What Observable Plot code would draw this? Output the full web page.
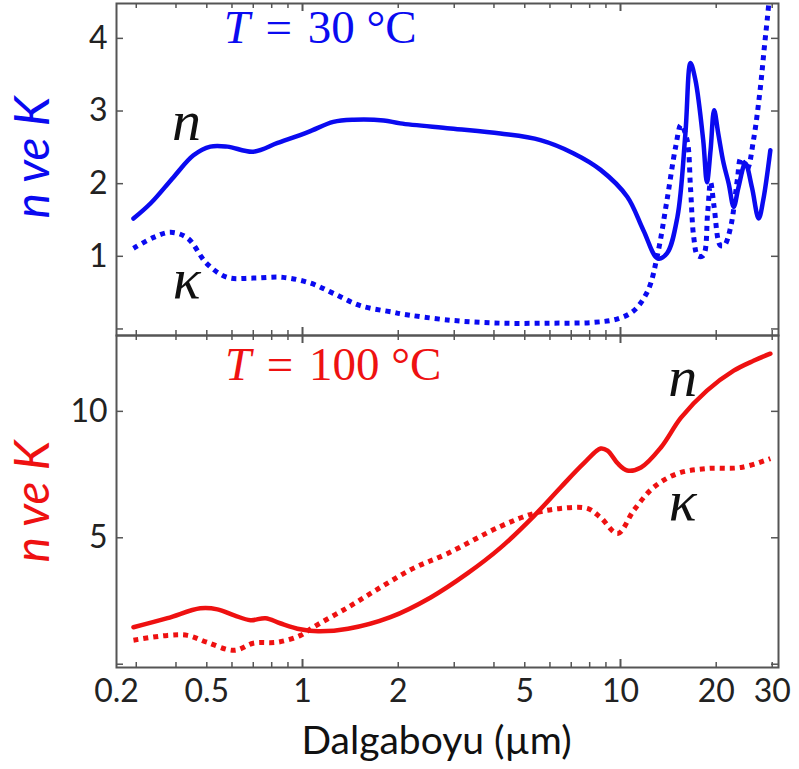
<!DOCTYPE html>
<html>
<head>
<meta charset="utf-8">
<script src="https://cdn.jsdelivr.net/npm/d3@7"></script>
<script src="https://cdn.jsdelivr.net/npm/@observablehq/plot@0.6"></script>
<style>
  html, body { margin: 0; padding: 0; background: #fff; }
  #chart { position: relative; width: 799px; height: 769px; overflow: hidden; }
  #chart svg { position: absolute; left: 0; }
</style>
</head>
<body>
<div id="chart"></div>
<script>
// ---- Data (wavelength in µm) ----
// Top panel, T = 30 °C
const n30_x = [0.294,0.333,0.393,0.454,0.513,0.58,0.70,0.835,1.04,1.25,1.45,1.80,2.03,2.92,4.19,5.6,7.1,8.66,10.5,11.8,13.1,14.0,15.1,16.0,16.6,17.2,18.2,18.7,19.2,19.7,20.3,21.1,21.9,22.7,23.5,24.7,25.9,27.2,28.1,29.6];
const n30_y = [1.52,1.73,2.09,2.39,2.51,2.51,2.44,2.56,2.71,2.85,2.88,2.87,2.83,2.76,2.69,2.60,2.42,2.19,1.82,1.36,0.97,1.04,1.54,2.69,3.66,3.43,2.60,2.02,2.46,3.01,2.69,2.28,2.00,1.68,1.95,2.28,1.95,1.52,1.77,2.46];
const k30_x = [0.294,0.34,0.385,0.435,0.50,0.58,0.70,0.87,1.06,1.25,1.52,1.93,2.03,2.92,4.19,6.0,8.2,9.8,11.0,12.2,13.1,14.0,14.9,15.5,16.2,16.6,17.0,17.5,18.2,18.8,19.2,19.7,20.6,21.2,22.2,23.3,23.9,25.0,26.2,27.5,28.3,29.0,29.6];
const k30_y = [1.11,1.26,1.33,1.25,0.90,0.71,0.70,0.71,0.63,0.49,0.32,0.23,0.21,0.12,0.08,0.08,0.09,0.14,0.25,0.53,1.04,1.77,2.50,2.81,2.60,1.95,1.26,1.01,1.01,1.60,2.02,1.68,1.15,1.15,1.40,2.05,2.35,2.20,2.60,3.30,3.85,4.30,4.70];
// Bottom panel, T = 100 °C
const n100_x = [0.294,0.376,0.477,0.54,0.61,0.686,0.765,0.85,0.985,1.12,1.39,1.89,2.53,3.30,4.19,5.33,6.48,7.66,8.66,9.1,9.8,10.5,11.6,13.4,15.5,18.7,22.7,26.2,29.6];
const n100_y = [1.46,1.82,2.21,2.17,1.93,1.74,1.82,1.62,1.38,1.30,1.40,1.86,2.64,3.59,4.60,5.85,6.99,7.94,8.53,8.45,7.94,7.66,7.78,8.57,9.75,10.82,11.61,12.00,12.28];
const k100_x = [0.294,0.376,0.435,0.50,0.61,0.70,0.835,0.985,1.08,1.39,1.76,2.23,2.86,4.19,5.33,6.48,7.87,8.66,9.8,11.0,12.7,15.1,18.7,23.9,29.6];
const k100_y = [0.95,1.14,1.14,0.87,0.55,0.83,0.87,1.14,1.46,2.25,3.04,3.79,4.38,5.45,5.96,6.16,6.16,5.80,5.17,6.08,6.99,7.54,7.74,7.78,8.13];

// Axis ticks
const xDomain = [0.26, 31.4];
const xTickValues = [0.26, 0.5, 1, 2, 5, 10, 20, 30];
const xTickLabels = ["0.2", "0.5", "1", "2", "5", "10", "20", "30"];
const xMinorTicks = [0.3,0.4,0.5,0.6,0.7,0.8,0.9,2,3,4,5,6,7,8,9,20,30];
const xMajorTicks = [1, 10];
const yTop_ticks = [0, 1, 2, 3, 4];
const yTop_labels = ["", "1", "2", "3", "4"];
const yBot_ticks = [0, 5, 10];
const yBot_labels = ["", "5", "10"];

// Annotations (data coordinates)
const topTemp = {x: 0.565, y: 3.94, text: "T\u2004=\u200430 °C"};
const botTemp = {x: 0.57, y: 11.25, text: "T\u2004=\u2004100 °C"};
const topLetters = [{x: 0.432, y: 2.60, t: "n"}, {x: 0.432, y: 0.43, t: "κ"}];
const botLetters = [{x: 15.7, y: 10.62, t: "n"}, {x: 15.7, y: 5.69, t: "κ"}];

const BLUE = "#0a0af0";
const RED = "#ee1111";
const FRAME = "#555";
const SANS = "Lato, 'Open Sans', sans-serif";
const SERIF = "'Liberation Serif', 'DejaVu Serif', serif";

const zip = (xs, ys) => xs.map((x, i) => ({x, y: ys[i]}));

const W = 799, ML = 116, MR = 21;
const frameW = W - ML - MR;

function panel({height, marginTop, marginBottom, yDomain, yTicks, yLabels, solid, dotted, color, temp, letters, bottomAxis, labelDy}) {
  const frameH = height - marginTop - marginBottom;
  const marks = [
    Plot.line(zip(...solid), {x: "x", y: "y", stroke: color, strokeWidth: 4.5, curve: "catmull-rom", clip: true}),
    Plot.line(zip(...dotted), {x: "x", y: "y", stroke: color, strokeWidth: 5, strokeDasharray: "5 5", strokeLinecap: "butt", curve: "catmull-rom", clip: true}),
    // inward ticks: x minor (bottom & top)
    Plot.tickX(xMinorTicks, {x: d => d, stroke: FRAME, strokeWidth: 1.5, insetTop: frameH - 5}),
    Plot.tickX(xMinorTicks, {x: d => d, stroke: FRAME, strokeWidth: 1.5, insetBottom: frameH - 5}),
    Plot.tickX(xMajorTicks, {x: d => d, stroke: FRAME, strokeWidth: 2, insetTop: frameH - 8}),
    Plot.tickX(xMajorTicks, {x: d => d, stroke: FRAME, strokeWidth: 2, insetBottom: frameH - 8}),
    // inward ticks: y (left & right)
    Plot.tickY(yTicks, {y: d => d, stroke: FRAME, strokeWidth: 1.5, insetRight: frameW - 7}),
    Plot.tickY(yTicks, {y: d => d, stroke: FRAME, strokeWidth: 1.5, insetLeft: frameW - 7}),
    Plot.frame({stroke: FRAME, strokeWidth: 2}),
    Plot.axisY(yTicks, {tickSize: 0, tickPadding: 9, tickFormat: (d) => yLabels[yTicks.indexOf(d)], fontSize: 32, fill: "#222", label: null, fontFamily: SANS}),
    Plot.text(["n ve K"], {frameAnchor: "left", textAnchor: "middle", lineAnchor: "middle", rotate: -90, dx: -83, dy: labelDy, fill: color, fontSize: 48, fontStyle: "italic", fontFamily: SANS}),
    Plot.text([temp], {x: "x", y: "y", text: "text", textAnchor: "start", lineAnchor: "bottom", fill: color, fontSize: 47, fontFamily: SERIF, className: "temp-label"}),
    Plot.text(letters, {x: "x", y: "y", text: "t", textAnchor: "middle", lineAnchor: "bottom", fill: "#111", fontSize: 58, fontStyle: "italic", fontFamily: SERIF})
  ];
  if (bottomAxis) {
    marks.push(Plot.text(xTickValues, {x: d => d, text: (d, i) => xTickLabels[i], frameAnchor: "bottom", lineAnchor: "top", dy: 12, fontSize: 32, fill: "#222", fontFamily: SANS}));
    marks.push(Plot.text(["Dalgaboyu (µm)"], {frameAnchor: "bottom", dy: 86, dx: -11, lineAnchor: "bottom", fontSize: 39, fill: "#111", fontFamily: SANS}));
  }
  return Plot.plot({
    width: W, height, marginLeft: ML, marginRight: MR, marginTop, marginBottom,
    style: {background: "transparent", overflow: "visible"},
    x: {type: "log", domain: xDomain, axis: null},
    y: {domain: yDomain},
    marks
  });
}

const topPanel = panel({
  height: 337, marginTop: 3, marginBottom: 2,
  yDomain: [-0.09, 4.48], yTicks: yTop_ticks, yLabels: yTop_labels,
  solid: [n30_x, n30_y], dotted: [k30_x, k30_y], color: BLUE,
  temp: topTemp, letters: topLetters, bottomAxis: false, labelDy: -12
});
const bottomPanel = panel({
  height: 436, marginTop: 2, marginBottom: 102,
  yDomain: [-0.13, 13.0], yTicks: yBot_ticks, yLabels: yBot_labels,
  solid: [n100_x, n100_y], dotted: [k100_x, k100_y], color: RED,
  temp: botTemp, letters: botLetters, bottomAxis: true, labelDy: 0
});

// Style "T" in italic within temperature labels
for (const svg of [topPanel, bottomPanel]) {
  d3.select(svg).selectAll(".temp-label text").each(function() {
    const t = this.textContent;
    const rest = t.slice(1);
    this.textContent = "";
    d3.select(this).append("tspan").attr("font-style", "italic").text(t[0]);
    d3.select(this).append("tspan").text(rest);
  });
}

const chart = document.getElementById("chart");
topPanel.style.top = "0px";
bottomPanel.style.top = "333px";
chart.appendChild(bottomPanel);
chart.appendChild(topPanel);
</script>
</body>
</html>
